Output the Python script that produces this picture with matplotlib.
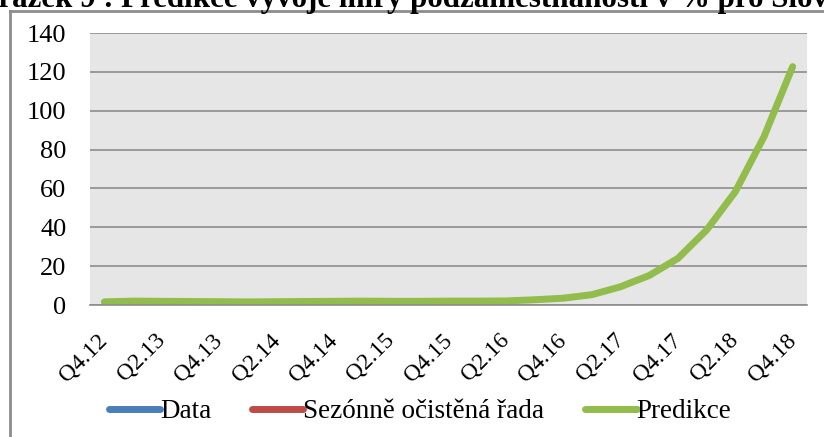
import matplotlib
matplotlib.use("Agg")
import matplotlib.pyplot as plt
from matplotlib.lines import Line2D
import numpy as np

plt.rcParams['font.family'] = ['Liberation Serif', 'DejaVu Serif']

# quarters Q4.12 .. Q4.18
quarters = ["Q4.12"]
for yr in range(13, 19):
	for q in range(1, 5):
		quarters.append("Q%d.%d" % (q, yr))

data = [1.8, 2.4, 2.1, 1.7, 1.6, 1.5, 1.8, 1.7, 2.2, 2.3, 1.6, 1.8, 2.1, 2.3, 2.4]
sezonne = [2.1, 2.2, 1.5, 1.4, 1.6, 1.7, 1.8, 2.2, 2.5, 1.6, 1.4, 1.8, 2.5, 2.6, 2.6]
predikce = [1.6, 2.0, 1.9, 1.8, 1.7, 1.6, 1.7, 1.8, 1.9, 2.0, 1.9, 1.9, 2.0, 2.0, 2.1,
			2.7, 3.5, 5.3, 9.4, 15.2, 24.0, 38.6, 58.3, 86.6, 122.7]

yticks = [0, 20, 40, 60, 80, 100, 120, 140]

W, H = 824, 437
fig = plt.figure(figsize=(W / 100.0, H / 100.0), dpi=100)
ax = fig.add_axes([90.0 / W, 1 - 305.0 / H, 717.0 / W, 272.0 / H])
ax.set_facecolor('#e6e6e6')

x = np.arange(len(quarters))
ax.plot(x[:len(data)], data, color='#4a7ebb', lw=2.8, solid_capstyle='round', label='Data')
ax.plot(x[:len(sezonne)], sezonne, color='#be4b48', lw=2.8, solid_capstyle='round', label='Sezónně očistěná řada')
ax.plot(x, predikce, color='#92bc4c', lw=5, solid_capstyle='round', label='Predikce')

ax.set_xlim(-0.5, len(quarters) - 0.5)
ax.set_ylim(0, 140)
ax.set_yticks(yticks)
ax.grid(axis='y', color='#8c8c8c', lw=1.2)
ax.set_axisbelow(True)
for s in ['left', 'right', 'top']:
	ax.spines[s].set_visible(False)
ax.spines['bottom'].set_color('#8c8c8c')
ax.spines['bottom'].set_linewidth(1.2)
ax.tick_params(axis='both', length=0)
ax.tick_params(axis='y', pad=17, labelsize=19)

ax.set_xticks(x[::2])
ax.set_xticklabels(quarters[::2], rotation=45, ha='right', va='center', rotation_mode='anchor')
ax.tick_params(axis='x', pad=23, labelsize=17)

leg = fig.legend(loc='center', bbox_to_anchor=(420.0 / W, 1 - 412.0 / H), ncol=3, frameon=False,
				 fontsize=19.5, handlelength=1.9, handletextpad=0.0, columnspacing=1.5)
for h in leg.get_lines():
	h.set_linewidth(5)
	h.set_solid_capstyle('round')

# outer frame (only left and top are visible)
fig.add_artist(Line2D([10.0 / W, 10.0 / W], [0, 1 - 11.0 / H], transform=fig.transFigure, color='#8c8c8c', lw=2))
fig.add_artist(Line2D([10.0 / W, 1], [1 - 11.0 / H, 1 - 11.0 / H], transform=fig.transFigure, color='#8c8c8c', lw=2))

# title is cut off at the top of the picture
fig.text(114.0 / W, 1 - 7.0 / H, "Obrázek 9 :", ha='right', va='baseline', fontsize=22.3, fontweight='bold')
fig.text(121.0 / W, 1 - 7.0 / H, "Predikce vývoje míry podzaměstnanosti v % pro Slovensko",
		 ha='left', va='baseline', fontsize=22.3, fontweight='bold')

plt.savefig("out.png", dpi=100)
